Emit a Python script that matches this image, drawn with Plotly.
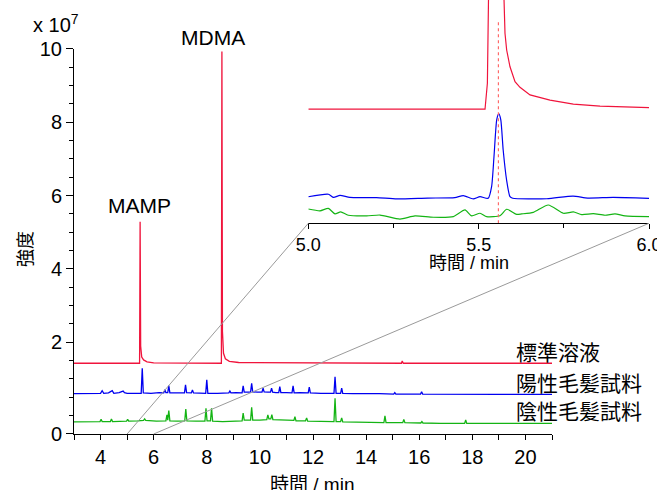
import plotly.graph_objects as go

# ---------------- data (main chromatograms, intensity x 10^7) ----------------
std_x = [3.0, 5.47, 5.49, 5.51, 5.55, 5.62, 5.75, 6.0, 8.55, 8.57, 8.59, 8.63, 8.70, 8.85, 9.2,
         15.33, 15.36, 15.40, 21.0]
std_y = [1.43, 1.43, 5.29, 1.90, 1.60, 1.52, 1.47, 1.44, 1.43, 9.93, 2.30, 1.70, 1.55, 1.48, 1.45,
         1.43, 1.49, 1.43, 1.43]

pos_x = [3.0, 3.5, 4.0, 4.06, 4.12, 4.3, 4.44, 4.5, 4.7, 4.85, 4.9, 5.0, 5.3, 5.53, 5.57, 5.61,
         5.9, 6.2, 6.38, 6.42, 6.46, 6.53, 6.57, 6.61, 6.9, 7.16, 7.2, 7.24, 7.42, 7.46, 7.5,
         7.7, 7.96, 8.0, 8.04, 8.4, 8.83, 8.87, 8.91, 9.1, 9.33, 9.37, 9.41, 9.5, 9.65, 9.69,
         9.73, 9.9, 10.08, 10.12, 10.16, 10.3, 10.40, 10.44, 10.48, 10.6, 10.71, 10.75, 10.79,
         11.0, 11.21, 11.25, 11.29, 11.5, 11.82, 11.86, 11.9, 12.3, 12.79, 12.83, 12.87, 13.04,
         13.08, 13.12, 13.5, 14.5, 15.04, 15.08, 15.12, 16.05, 16.09, 16.13, 17.5, 19.0, 21.0]
pos_y = [0.60, 0.61, 0.61, 0.68, 0.61, 0.62, 0.68, 0.61, 0.63, 0.67, 0.63, 0.61, 0.62, 0.61, 1.29, 0.62,
         0.61, 0.63, 0.62, 0.71, 0.63, 0.63, 0.82, 0.62, 0.62, 0.62, 0.84, 0.63, 0.62, 0.70, 0.62,
         0.61, 0.61, 0.98, 0.61, 0.61, 0.62, 0.67, 0.62, 0.63, 0.62, 0.81, 0.64, 0.64, 0.64, 0.88,
         0.65, 0.64, 0.64, 0.75, 0.65, 0.64, 0.64, 0.75, 0.64, 0.63, 0.63, 0.79, 0.63,
         0.63, 0.62, 0.81, 0.62, 0.63, 0.62, 0.78, 0.62, 0.61, 0.61, 1.06, 0.61, 0.61,
         0.75, 0.61, 0.60, 0.60, 0.59, 0.63, 0.59, 0.59, 0.65, 0.59, 0.58, 0.58, 0.58]

neg_x = [3.0, 3.5, 3.98, 4.02, 4.06, 4.37, 4.41, 4.45, 4.7, 4.98, 5.02, 5.06, 5.4, 5.62, 5.66, 5.7,
         6.1, 6.46, 6.5, 6.53, 6.57, 6.61, 6.9, 7.17, 7.21, 7.25, 7.6, 7.93, 7.97, 8.01, 8.14,
         8.18, 8.22, 8.6, 9.33, 9.37, 9.41, 9.65, 9.69, 9.73, 10.0, 10.26, 10.3, 10.34, 10.41,
         10.45, 10.49, 10.9, 11.28, 11.32, 11.36, 11.72, 11.76, 11.8, 12.3, 12.79, 12.83, 12.87,
         13.04, 13.08, 13.12, 13.6, 14.67, 14.71, 14.75, 15.38, 15.42, 15.46, 16.06, 16.1, 16.14,
         16.8, 17.71, 17.75, 17.79, 19.0, 21.0]
neg_y = [-0.17, -0.16, -0.16, -0.10, -0.16, -0.16, -0.09, -0.16, -0.15, -0.15, -0.10, -0.15, -0.14,
         -0.13, -0.09, -0.13, -0.15, -0.14, 0.02, -0.12, 0.14, -0.14, -0.15, -0.14, 0.18, -0.14,
         -0.15, -0.15, 0.20, -0.14, -0.14, 0.20, -0.15, -0.16, -0.14, 0.07, -0.12, -0.12, 0.23,
         -0.12, -0.12, -0.11, 0.02, -0.09, -0.09, 0.03, -0.11, -0.13, -0.13, -0.03, -0.14, -0.14,
         -0.06, -0.15, -0.16, -0.16, 0.475, -0.16, -0.16, -0.06, -0.17, -0.18, -0.19, -0.005,
         -0.19, -0.19, -0.10, -0.19, -0.20, -0.16, -0.20, -0.21, -0.21, -0.12, -0.21, -0.21, -0.21]

# ---------------- data (inset 5.0 - 6.0 min, relative intensity) ----------------
ins_std_x = [5.0, 5.5187, 5.5256, 5.5314, 5.5353, 5.555, 5.5744, 5.5773, 5.5822, 5.5920, 5.6067,
             5.6213, 5.6507, 5.7094, 5.7779, 5.8562, 6.0]
ins_std_y = [51.1, 51.1, 62.7, 85.1, 100.5, 400.0, 100.5, 85.1, 77.6, 70.1, 63.4,
             60.9, 57.5, 55.2, 53.4, 52.5, 51.8]

ins_pos_x = [5.0, 5.059, 5.074, 5.093, 5.122, 5.20, 5.26, 5.35, 5.43, 5.455, 5.484, 5.504, 5.528,
             5.538, 5.545, 5.553, 5.559, 5.565, 5.572, 5.582, 5.592, 5.60, 5.70, 5.777, 5.82,
             5.895, 6.0]
ins_pos_y = [11.9, 13.0, 11.6, 12.5, 11.6, 11.5, 10.9, 11.3, 11.5, 12.4, 10.9, 11.9, 11.2,
             16.4, 29.8, 46.3, 49.1, 46.3, 32.8, 19.4, 11.9, 11.2, 11.0, 12.2, 11.3,
             11.6, 11.2]

ins_neg_x = [5.0, 5.0343, 5.0588, 5.0783, 5.0950, 5.1175, 5.1713, 5.2104, 5.2691, 5.3131, 5.3670,
             5.4257, 5.4599, 5.4795, 5.5039, 5.5235, 5.5626, 5.5822, 5.6116, 5.6262, 5.6605,
             5.7045, 5.7486, 5.7779, 5.8024, 5.8366, 5.8708, 5.9002, 5.9296, 6.0]
ins_neg_y = [6.4, 5.6, 6.7, 4.2, 5.1, 3.6, 3.3, 3.7, 1.9, 3.3, 2.7,
             3.0, 6.0, 3.3, 4.5, 3.0, 3.4, 6.3, 4.0, 4.2, 4.9,
             8.2, 4.5, 5.1, 3.9, 4.3, 3.6, 4.2, 3.3, 3.0]

peak_rt = 5.558
peak_mark_top = 90.3

y_tickvals = [-0.5, 2, 4, 6, 8, 10]
y_ticktext = ["0", "2", "4", "6", "8", "10"]
x_tickvals = [4, 6, 8, 10, 12, 14, 16, 18, 20]
inset_tickvals = [5.0, 5.5, 6.0]
inset_ticktext = ["5.0", "5.5", "6.0"]

labels = ["標準溶液", "陽性毛髪試料", "陰性毛髪試料"]
peak_names = ["MAMP", "MDMA"]

RED = "#f0143c"
BLUE = "#0000f0"
GREEN = "#14b414"
FONT = "Liberation Sans, Arial, Noto Sans CJK JP, sans-serif"

# ---------------- layout geometry ----------------
XR = [3, 21]
YR = [-0.5, 10]
main_xdom = [0, 0.8313]
main_ydom = [0, 0.8871]
ins_xdom = [0.4075, 1.0]
ins_ydom = [0.4855, 1.0]
ins_xr = [5.0, 6.0]
ins_yr = [0, 100]

fig = go.Figure()
line_w = 1.3
fig.add_trace(go.Scatter(x=std_x, y=std_y, mode="lines", line=dict(color=RED, width=line_w),
                         xaxis="x", yaxis="y"))
fig.add_trace(go.Scatter(x=pos_x, y=pos_y, mode="lines", line=dict(color=BLUE, width=line_w),
                         xaxis="x", yaxis="y"))
fig.add_trace(go.Scatter(x=neg_x, y=neg_y, mode="lines", line=dict(color=GREEN, width=line_w),
                         xaxis="x", yaxis="y"))

fig.add_trace(go.Scatter(x=ins_std_x, y=ins_std_y, mode="lines", line=dict(color=RED, width=1.2),
                         xaxis="x2", yaxis="y2"))
fig.add_trace(go.Scatter(x=ins_pos_x, y=ins_pos_y, mode="lines",
                         line=dict(color=BLUE, width=1.2, shape="spline", smoothing=0.6),
                         xaxis="x2", yaxis="y2"))
fig.add_trace(go.Scatter(x=ins_neg_x, y=ins_neg_y, mode="lines",
                         line=dict(color=GREEN, width=1.2, shape="spline", smoothing=0.6),
                         xaxis="x2", yaxis="y2"))
fig.add_trace(go.Scatter(x=[peak_rt, peak_rt], y=[0, peak_mark_top], mode="lines",
                         line=dict(color="#ff6a6a", width=1.2, dash="dot"),
                         xaxis="x2", yaxis="y2"))

axis_common = dict(showgrid=False, zeroline=False, showline=True, linecolor="black", linewidth=1,
                   ticks="outside", tickcolor="black", tickwidth=1, automargin=False,
                   tickfont=dict(family=FONT, size=20, color="black"))

fig.update_layout(
    width=657, height=490,
    margin=dict(l=74, r=8, t=0, b=56, autoexpand=False),
    paper_bgcolor="white", plot_bgcolor="rgba(0,0,0,0)",
    showlegend=False,
    font=dict(family=FONT, color="black"),
    xaxis=dict(domain=main_xdom, range=XR, anchor="y", tickvals=x_tickvals, ticklen=5,
               minor=dict(dtick=1, tick0=3, ticks="outside", ticklen=5, tickcolor="black"),
               **axis_common),
    yaxis=dict(domain=main_ydom, range=YR, anchor="x", tickvals=y_tickvals, ticktext=y_ticktext,
               ticklen=7, minor=dict(dtick=0.5, tick0=0, ticks="outside", ticklen=4, tickcolor="black"),
               **axis_common),
    xaxis2=dict(domain=ins_xdom, range=ins_xr, anchor="y2", tickvals=inset_tickvals,
                ticktext=inset_ticktext, ticklen=5, ticklabeloverflow="allow", automargin=False,
                minor=dict(dtick=0.25, tick0=5.0, ticks="outside", ticklen=4, tickcolor="black"),
                showgrid=False, zeroline=False, showline=True, linecolor="black", linewidth=1,
                ticks="outside", tickcolor="black", tickwidth=1,
                tickfont=dict(family=FONT, size=18, color="black")),
    yaxis2=dict(domain=ins_ydom, range=ins_yr, anchor="x2", visible=False, automargin=False),
)

# connector lines from main axis (5-6 min) to inset axis
def main_px(x):
    return main_xdom[0] + (x - XR[0]) / (XR[1] - XR[0]) * (main_xdom[1] - main_xdom[0])

def ins_px(x):
    return ins_xdom[0] + (x - ins_xr[0]) / (ins_xr[1] - ins_xr[0]) * (ins_xdom[1] - ins_xdom[0])

def main_py(y):
    return main_ydom[0] + (y - YR[0]) / (YR[1] - YR[0]) * (main_ydom[1] - main_ydom[0])

for xv in ins_xr:
    fig.add_shape(type="line", xref="paper", yref="paper",
                  x0=main_px(xv), y0=main_ydom[0], x1=ins_px(xv), y1=ins_ydom[0],
                  line=dict(color="#9a9a9a", width=1))

# annotations
ann = []
ann.append(dict(text=peak_names[0], x=main_px(5.47), y=main_py(5.72), xref="paper", yref="paper",
                showarrow=False, font=dict(size=21, family=FONT), xanchor="center", yanchor="middle"))
ann.append(dict(text=peak_names[1], x=main_px(8.23), y=main_py(10.32), xref="paper", yref="paper",
                showarrow=False, font=dict(size=21, family=FONT), xanchor="center", yanchor="middle"))
ann.append(dict(text="x 10<sup>7</sup>", x=-0.075, y=0.945, xref="paper", yref="paper",
                showarrow=False, font=dict(size=20, family=FONT), xanchor="left", yanchor="middle"))
ann.append(dict(text="強度", x=-0.087, y=0.426, xref="paper", yref="paper", textangle=-90,
                showarrow=False, font=dict(size=18, family="Noto Sans CJK JP"),
                xanchor="center", yanchor="middle"))
ann.append(dict(text="時間 / min", x=0.414, y=-0.116, xref="paper", yref="paper",
                showarrow=False, font=dict(size=19, family=FONT), xanchor="center", yanchor="middle"))
ann.append(dict(text="時間 / min", x=0.687, y=0.393, xref="paper", yref="paper",
                showarrow=False, font=dict(size=18, family=FONT), xanchor="center", yanchor="middle"))
label_y = [0.192, 0.120, 0.055]
for t, yy in zip(labels, label_y):
    ann.append(dict(text=t, x=0.766, y=yy, xref="paper", yref="paper", showarrow=False,
                    font=dict(size=21, family="Noto Sans CJK JP"), xanchor="left", yanchor="middle"))
fig.update_layout(annotations=ann)

fig.write_html("out.html", config={"displayModeBar": False},
               post_script="document.body.style.margin='0';document.body.style.overflow='hidden';")
